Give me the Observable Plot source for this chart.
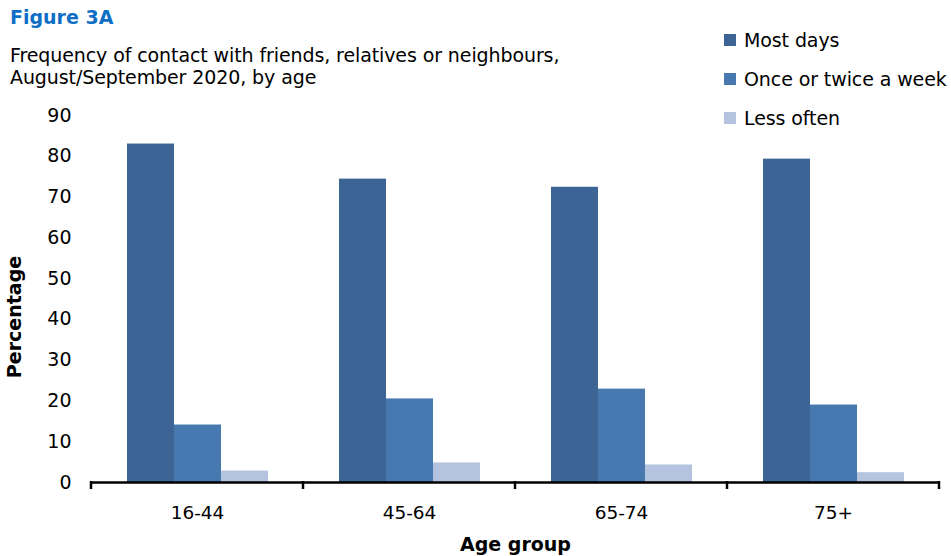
<!DOCTYPE html>
<html>
<head>
<meta charset="utf-8">
<script src="https://cdn.jsdelivr.net/npm/d3@7"></script>
<script src="https://cdn.jsdelivr.net/npm/@observablehq/plot@0.6"></script>
<style>
  html, body { margin: 0; padding: 0; background: #fff; }
  #wrap { position: relative; width: 951px; height: 556px; font-family: "DejaVu Sans", Verdana, sans-serif; }
  #title { position: absolute; left: 10px; top: 6px; font-size: 19px; font-weight: bold; color: #0f6fc6; }
  #subtitle { position: absolute; left: 10px; top: 44px; font-size: 19px; line-height: 22px; color: #000; letter-spacing: -0.1px; }
  #legend { position: absolute; left: 724px; top: 20px; font-size: 19px; color: #000; }
  .li { display: flex; align-items: center; height: 39px; white-space: nowrap; letter-spacing: -0.1px; }
  .sw { width: 12px; height: 12px; margin-right: 8px; }
  #chart { position: absolute; left: 0; top: 0; }
</style>
</head>
<body>
<div id="wrap">
  <div id="chart"></div>
  <div id="title">Figure 3A</div>
  <div id="subtitle">Frequency of contact with friends, relatives or neighbours,<br>August/September 2020, by age</div>
  <div id="legend"></div>
</div>
<script>
const ages = ["16-44", "45-64", "65-74", "75+"];
const seriesNames = ["Most days", "Once or twice a week", "Less often"];
const mostDays = [83, 74.4, 72.4, 79.3];
const onceOrTwice = [14.1, 20.5, 22.9, 19];
const lessOften = [2.8, 4.8, 4.3, 2.4];
const colors = ["#3c6596", "#4878b0", "#b4c3de"];
const yTicks = [0, 10, 20, 30, 40, 50, 60, 70, 80, 90];

const seriesValues = [mostDays, onceOrTwice, lessOften];
const data = [];
ages.forEach((age, i) => {
  seriesNames.forEach((s, j) => {
    data.push({age, series: s, value: seriesValues[j][i]});
  });
});

const plot = Plot.plot({
  width: 951,
  height: 556,
  marginTop: 115,
  marginBottom: 74,
  marginLeft: 90,
  marginRight: 12,
  style: {fontFamily: "DejaVu Sans, Verdana, sans-serif", color: "#000", background: "transparent"},
  fx: {domain: ages, paddingInner: 0, paddingOuter: 0, label: null, axis: null},
  x: {domain: seriesNames, paddingInner: 0, paddingOuter: 0.74, axis: null},
  y: {domain: [0, 90], axis: null},
  color: {domain: seriesNames, range: colors},
  marks: [
    Plot.barY(data, {fx: "age", x: "series", y: "value", fill: "series", inset: 0}),
    Plot.ruleY([0], {stroke: "#000", strokeWidth: 2.5}),
    Plot.axisY({ticks: yTicks, tickSize: 0, tickPadding: 20, fontSize: 19, label: "Percentage", labelAnchor: "center", labelArrow: "none", labelOffset: 84}),
    Plot.axisFx({anchor: "bottom", tickSize: 0, tickPadding: 23, fontSize: 18.5, label: "Age group", labelAnchor: "center", labelArrow: "none", labelOffset: 68})
  ]
});
document.getElementById("chart").appendChild(plot);

// bold axis titles
const svg = d3.select(plot);
svg.selectAll("g[aria-label='y-axis label'] text, g[aria-label='fx-axis label'] text")
  .style("font-weight", "bold").style("font-size", "19px");
// shift the y title slightly lower, as in the reference
svg.selectAll("g[aria-label='y-axis label'] text").attr("dx", "-18");

// Excel-style ticks at category boundaries, from the fx scale
const fx = plot.scale("fx");
const y = plot.scale("y");
const step = fx.step;
const y0 = y.apply(0);
const bounds = ages.map(a => fx.apply(a)).concat([fx.apply(ages[ages.length - 1]) + step]);
svg.append("g").selectAll("line").data(bounds).join("line")
  .attr("x1", d => d).attr("x2", d => d)
  .attr("y1", y0 - 1).attr("y2", y0 + 7)
  .attr("stroke", "#000").attr("stroke-width", 2.5);

// legend
const legend = d3.select("#legend");
seriesNames.forEach((s, i) => {
  const row = legend.append("div").attr("class", "li");
  row.append("div").attr("class", "sw").style("background", colors[i]);
  row.append("span").text(s);
});
</script>
</body>
</html>
